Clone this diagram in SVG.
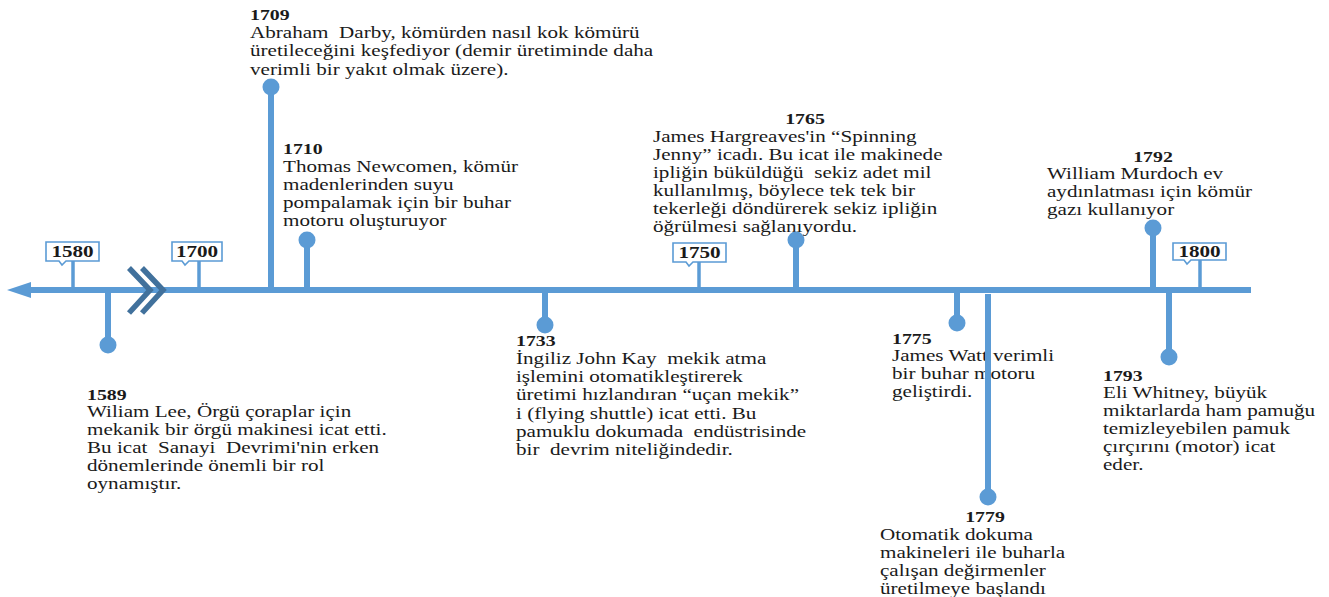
<svg xmlns="http://www.w3.org/2000/svg" width="1329" height="597" viewBox="0 0 1329 597">
<style>
.t{font-family:"Liberation Serif","Times New Roman",serif;font-size:16.5px;fill:#1a1a1a;white-space:pre}
.y{font-family:"Liberation Serif","Times New Roman",serif;font-size:15.5px;font-weight:bold;fill:#1a1a1a}
.ax{font-family:"Liberation Serif","Times New Roman",serif;font-size:16.5px;font-weight:bold;fill:#1a1a1a;text-anchor:middle}
.c{text-anchor:middle}
.box{fill:#fff;stroke:#5B9BD5;stroke-width:1.6}
.tick{stroke:#5B9BD5;stroke-width:3.5;fill:none}
.stem{stroke:#5B9BD5;stroke-width:6;fill:none}
.dot{fill:#5B9BD5}
.brk{stroke:#41719C;stroke-width:5.5;fill:none;stroke-linejoin:miter}
</style>
<rect width="1329" height="597" fill="#fff"/>

<g id="n1589"><text class="y" transform="translate(87,400) scale(1.28,1)">1589</text><text class="t" xml:space="preserve" transform="translate(87,417) scale(1.28,1)"><tspan x="0" dy="0">Wiliam Lee, Örgü çoraplar için</tspan><tspan x="0" dy="18">mekanik bir örgü makinesi icat etti.</tspan><tspan x="0" dy="18">Bu icat  Sanayi  Devrimi'nin erken</tspan><tspan x="0" dy="18">dönemlerinde önemli bir rol</tspan><tspan x="0" dy="18">oynamıştır.</tspan></text></g>

<g id="n1709"><text class="y" transform="translate(250,20) scale(1.28,1)">1709</text><text class="t" xml:space="preserve" transform="translate(250,38) scale(1.28,1)"><tspan x="0" dy="0">Abraham  Darby, kömürden nasıl kok kömürü</tspan><tspan x="0" dy="18.5">üretileceğini keşfediyor (demir üretiminde daha</tspan><tspan x="0" dy="18.5">verimli bir yakıt olmak üzere).</tspan></text></g>

<g id="n1710"><text class="y" transform="translate(283,154) scale(1.28,1)">1710</text><text class="t" xml:space="preserve" transform="translate(283,172) scale(1.28,1)"><tspan x="0" dy="0">Thomas Newcomen, kömür</tspan><tspan x="0" dy="18">madenlerinden suyu</tspan><tspan x="0" dy="18">pompalamak için bir buhar</tspan><tspan x="0" dy="18">motoru oluşturuyor</tspan></text></g>

<g id="n1733"><text class="y" transform="translate(516,346) scale(1.28,1)">1733</text><text class="t" xml:space="preserve" transform="translate(516,364) scale(1.28,1)"><tspan x="0" dy="0">İngiliz John Kay  mekik atma</tspan><tspan x="0" dy="18.2">işlemini otomatikleştirerek</tspan><tspan x="0" dy="18.2">üretimi hızlandıran “uçan mekik”</tspan><tspan x="0" dy="18.2">i (flying shuttle) icat etti. Bu</tspan><tspan x="0" dy="18.2">pamuklu dokumada  endüstrisinde</tspan><tspan x="0" dy="18.2">bir  devrim niteliğindedir.</tspan></text></g>

<g id="n1765"><text class="y c" transform="translate(805,124) scale(1.28,1)">1765</text><text class="t" xml:space="preserve" transform="translate(653,142) scale(1.28,1)"><tspan x="0" dy="0">James Hargreaves'in “Spinning</tspan><tspan x="0" dy="18">Jenny” icadı. Bu icat ile makinede</tspan><tspan x="0" dy="18">ipliğin büküldüğü  sekiz adet mil</tspan><tspan x="0" dy="18">kullanılmış, böylece tek tek bir</tspan><tspan x="0" dy="18">tekerleği döndürerek sekiz ipliğin</tspan><tspan x="0" dy="18">öğrülmesi sağlanıyordu.</tspan></text></g>

<g id="n1775"><text class="y" transform="translate(892,344) scale(1.28,1)">1775</text><text class="t" xml:space="preserve" transform="translate(892,361) scale(1.28,1)"><tspan x="0" dy="0">James Watt verimli</tspan><tspan x="0" dy="18">bir buhar motoru</tspan><tspan x="0" dy="18">geliştirdi.</tspan></text></g>

<g id="n1779"><text class="y c" transform="translate(985,522) scale(1.28,1)">1779</text><text class="t" xml:space="preserve" transform="translate(880,540) scale(1.28,1)"><tspan x="0" dy="0">Otomatik dokuma</tspan><tspan x="0" dy="18">makineleri ile buharla</tspan><tspan x="0" dy="18">çalışan değirmenler</tspan><tspan x="0" dy="18">üretilmeye başlandı</tspan></text></g>

<g id="n1792"><text class="y c" transform="translate(1153,162) scale(1.28,1)">1792</text><text class="t" xml:space="preserve" transform="translate(1047,179) scale(1.28,1)"><tspan x="0" dy="0">William Murdoch ev</tspan><tspan x="0" dy="18">aydınlatması için kömür</tspan><tspan x="0" dy="18">gazı kullanıyor</tspan></text></g>

<g id="n1793"><text class="y" transform="translate(1103,381) scale(1.28,1)">1793</text><text class="t" xml:space="preserve" transform="translate(1103,398) scale(1.28,1)"><tspan x="0" dy="0">Eli Whitney, büyük</tspan><tspan x="0" dy="18">miktarlarda ham pamuğu</tspan><tspan x="0" dy="18">temizleyebilen pamuk</tspan><tspan x="0" dy="18">çırçırını (motor) icat</tspan><tspan x="0" dy="18">eder.</tspan></text></g>

<g id="connectors">
<line class="stem" x1="28" y1="290" x2="1251" y2="290"/>
<polygon class="dot" points="7,290 31,282 31,298"/>
<line class="tick" x1="73" y1="261" x2="73" y2="290"/>
<line class="tick" x1="199" y1="261" x2="199" y2="290"/>
<line class="tick" x1="699" y1="262" x2="699" y2="290"/>
<line class="tick" x1="1200" y1="260" x2="1200" y2="290"/>
<line class="stem" x1="108" y1="290" x2="108" y2="345"/><circle class="dot" cx="108" cy="345" r="8.5"/>
<line class="stem" x1="271" y1="290" x2="271" y2="87"/><circle class="dot" cx="271" cy="87" r="8.5"/>
<line class="stem" x1="307" y1="290" x2="307" y2="240"/><circle class="dot" cx="307" cy="240" r="8.5"/>
<line class="stem" x1="545" y1="290" x2="545" y2="325"/><circle class="dot" cx="545" cy="325" r="8.5"/>
<line class="stem" x1="796" y1="290" x2="796" y2="240"/><circle class="dot" cx="796" cy="240" r="8.5"/>
<line class="stem" x1="957" y1="290" x2="957" y2="323"/><circle class="dot" cx="957" cy="323" r="8.5"/>
<line class="stem" x1="988" y1="294" x2="988" y2="497"/><circle class="dot" cx="988" cy="497" r="8.5"/>
<line class="stem" x1="1153" y1="290" x2="1153" y2="228"/><circle class="dot" cx="1153" cy="228" r="8.5"/>
<line class="stem" x1="1169" y1="293" x2="1169" y2="357"/><circle class="dot" cx="1169" cy="357" r="8.5"/>
<polyline class="brk" points="129,268 150,290 129,313"/>
<polyline class="brk" points="142,268 163,290 142,313"/>
</g>

<g id="a1580"><path class="box" d="M46,242 H99 V261 H66 L62,265 L59,261 H46 Z"/><text class="ax" transform="translate(72.5,257) scale(1.28,1)">1580</text></g>
<g id="a1700"><path class="box" d="M172,242 H222 V261 H189 L185,265 L182,261 H172 Z"/><text class="ax" transform="translate(197,257) scale(1.28,1)">1700</text></g>
<g id="a1750"><path class="box" d="M673,243 H726 V262 H693 L689,266 L686,262 H673 Z"/><text class="ax" transform="translate(699.5,258) scale(1.28,1)">1750</text></g>
<g id="a1800"><path class="box" d="M1173,243 H1226 V260 H1191 L1187,264 L1184,260 H1173 Z"/><text class="ax" transform="translate(1199.5,257) scale(1.28,1)">1800</text></g>
</svg>
